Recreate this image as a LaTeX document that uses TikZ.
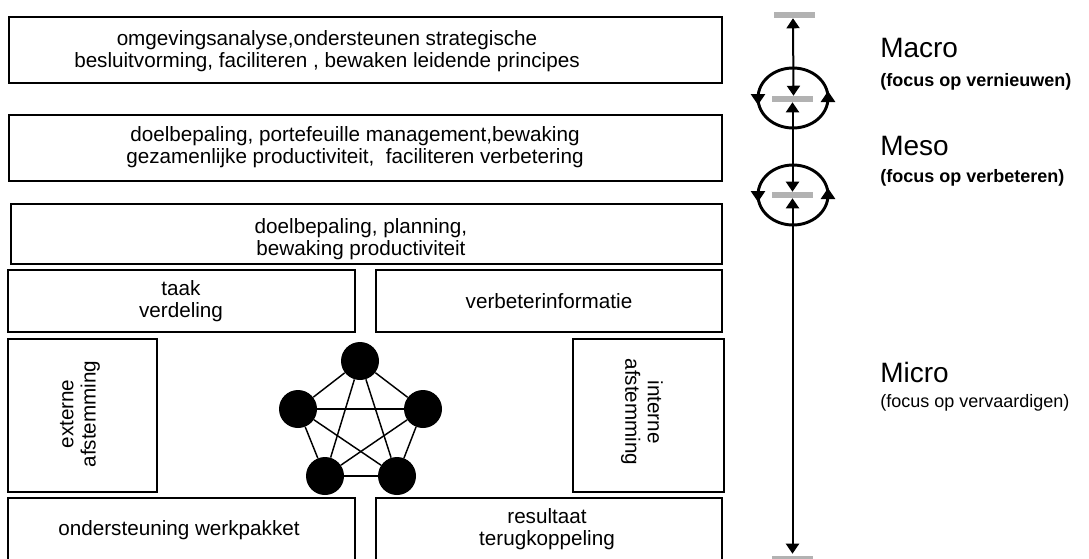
\documentclass[tikz,border=0pt]{standalone}
\usepackage{fontspec}
\setmainfont{Liberation Sans}
\usetikzlibrary{arrows.meta}
\begin{document}
\begin{tikzpicture}[x=0.75pt,y=-0.75pt,
  box/.style={draw,line width=2.2pt,inner sep=0pt,fill=none},
  lbl/.style={align=center,inner sep=0pt,font=\fontsize{15.5}{16.8}\selectfont},
  big/.style={anchor=west,inner sep=0pt,font=\fontsize{21}{24}\selectfont},
  sub/.style={anchor=west,inner sep=0pt,font=\fontsize{13.5}{15}\selectfont\bfseries},
  subr/.style={anchor=west,inner sep=0pt,font=\fontsize{13.5}{15}\selectfont},
  dot/.style={circle,fill=black,draw=none,minimum size=28.5pt,inner sep=0pt},
  net/.style={line width=1.1pt},
  graybar/.style={fill=black!30,draw=none,minimum width=30.75pt,minimum height=4.5pt,inner sep=0pt},
  arr/.style={line width=1.5pt,{Triangle[width=9.75pt,length=7.5pt]}-{Triangle[width=9.75pt,length=7.5pt]}},
  cyc/.style={line width=2.2pt},
  tip/.style={line width=2pt,-{Triangle[width=10.5pt,length=8.25pt]}}
]
\useasboundingbox (0,0) rectangle (1089,558);
% boxes
\node[box,minimum width=534.75pt,minimum height=49.5pt] (b1) at (365.5,50) {};
\node[box,minimum width=534.75pt,minimum height=49.5pt] (b2) at (365.5,148) {};
\node[box,minimum width=533.25pt,minimum height=45pt] (b3) at (366.5,234) {};
\node[box,minimum width=260.25pt,minimum height=46.5pt] (b4) at (181.5,301) {};
\node[box,minimum width=259.5pt,minimum height=46.5pt] (b5) at (549,301) {};
\node[box,minimum width=111.75pt,minimum height=114.75pt] (b6) at (82.5,415.5) {};
\node[box,minimum width=113.25pt,minimum height=114.75pt] (b7) at (648.5,415.5) {};
\draw[line width=2.2pt] (8,575) |- (355,498) -- (355,575);
\draw[line width=2.2pt] (376,575) |- (722,498) -- (722,575);
% labels
\node[lbl] (t1) at (327,51) {omgevingsanalyse,ondersteunen strategische\\besluitvorming, faciliteren , bewaken leidende principes};
\node[lbl] (t2) at (355,147) {doelbepaling, portefeuille management,bewaking\\gezamenlijke productiviteit,\ \ faciliteren verbetering};
\node[lbl] (t3) at (361,239) {doelbepaling, planning,\\bewaking productiviteit};
\node[lbl] (t4) at (181,301) {taak\\verdeling};
\node[lbl] (t5) at (549,301) {verbeterinformatie};
\node[lbl,rotate=90] (t6) at (80,414) {externe\\afstemming};
\node[lbl,rotate=-90] (t7) at (642,412) {interne\\afstemming};
\node[lbl] (t8) at (179,530) {ondersteuning werkpakket};
\node[lbl] (t9) at (547,529) {resultaat\\terugkoppeling};
% network
\node[dot] (p1) at (360,361) {};
\node[dot] (p2) at (423,409) {};
\node[dot] (p3) at (397,476) {};
\node[dot] (p4) at (325,476) {};
\node[dot] (p5) at (298,409) {};
\foreach \a/\b in {p1/p2,p1/p3,p1/p4,p1/p5,p2/p3,p2/p4,p2/p5,p3/p4,p3/p5,p4/p5}
  \draw[net] (\a) -- (\b);
% right scale
\node[graybar] (bar0) at (794,15) {};
\node[graybar] (bar1) at (792.5,99) {};
\node[graybar] (bar2) at (792.5,195) {};
\node[graybar] (bar3) at (792.5,559) {};
\draw[cyc] (793,98) ellipse [x radius=35, y radius=30];
\draw[cyc] (793,195) ellipse [x radius=35, y radius=30];
\draw[arr] ([xshift=-0.75pt]bar0.south) -- ([xshift=0.75pt]bar1.north);
\draw[arr] (bar1.south) -- (bar2.north);
\draw[arr] (bar2.south) -- ([yshift=1.5pt]bar3.north);
\coordinate (l1a) at (758,94); \coordinate (l1b) at (758,105);
\coordinate (r1a) at (828,102); \coordinate (r1b) at (828,91);
\coordinate (l2a) at (758,191); \coordinate (l2b) at (758,202);
\coordinate (r2a) at (828,199); \coordinate (r2b) at (828,188);
\draw[tip] (l1a) -- (l1b);
\draw[tip] (r1a) -- (r1b);
\draw[tip] (l2a) -- (l2b);
\draw[tip] (r2a) -- (r2b);
% right labels
\node[big] (macro) at (880,48) {Macro};
\node[sub] (macros) at (880,82) {(focus op vernieuwen)};
\node[big] (meso) at (880,146) {Meso};
\node[sub] (mesos) at (880,178) {(focus op verbeteren)};
\node[big] (micro) at (880,372) {Micro};
\node[subr] (micros) at (880,403) {(focus op vervaardigen)};
\end{tikzpicture}
\end{document}
